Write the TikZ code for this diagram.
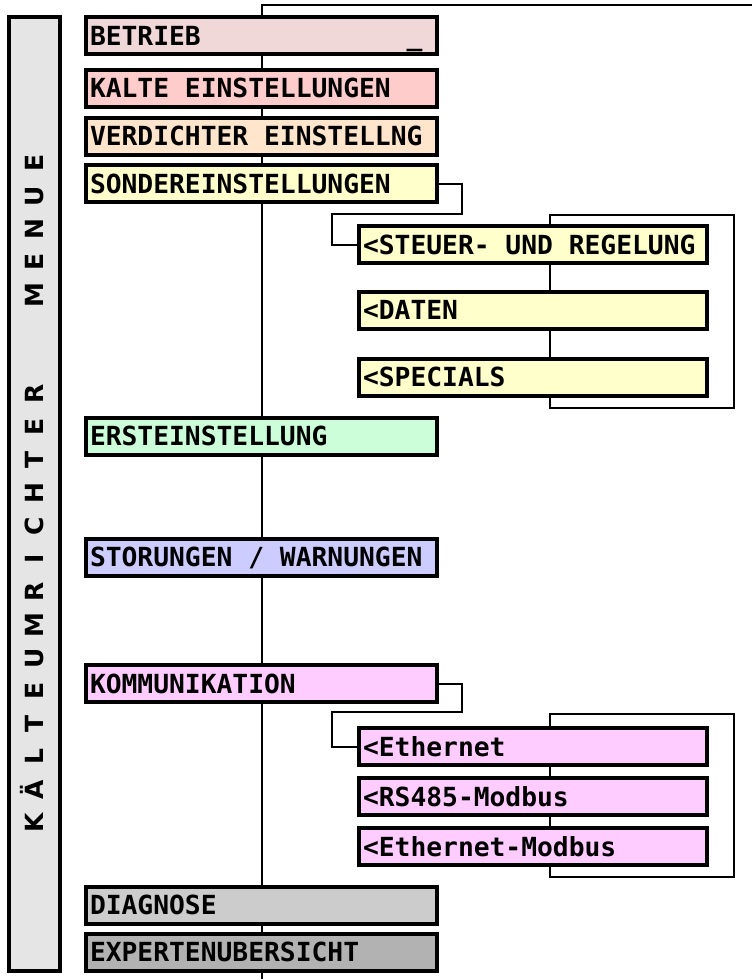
\documentclass[tikz,border=0pt]{standalone}
\usepackage{fontspec}
\newfontfamily\boxfont{DejaVu Sans Mono}
\newfontfamily\sidefont{DejaVu Sans}
\usetikzlibrary{backgrounds}
\definecolor{cside}{HTML}{E5E5E5}
\definecolor{cbetr}{HTML}{F0D8D8}
\definecolor{ckalt}{HTML}{FFCCCC}
\definecolor{cverd}{HTML}{FFE5CC}
\definecolor{csond}{HTML}{FFFFCC}
\definecolor{cerst}{HTML}{CCFFD9}
\definecolor{cstor}{HTML}{CCCCFF}
\definecolor{ckomm}{HTML}{FFCCFF}
\definecolor{cdiag}{HTML}{CCCCCC}
\definecolor{cexpt}{HTML}{B2B2B2}
\newcommand\ms{\hspace*{0.602em}}
\tikzset{
  menubox/.style={draw, line width=4pt, minimum height=37pt, inner xsep=4pt,
    align=left, text height=19pt, text depth=0pt,
    font=\boxfont\bfseries\fontsize{26.3}{26.3}\selectfont},
  mainbox/.style={menubox, text width=343pt, minimum width=351pt},
  subbox/.style={menubox, text width=340pt, minimum width=348pt},
  conn/.style={line width=2pt},
  vlet/.style={rotate=90, anchor=base, inner sep=0pt,
    font=\sidefont\bfseries\fontsize{25}{25}\selectfont}
}
\begin{document}
\begin{tikzpicture}[x=1pt, y=-1pt]
\useasboundingbox (0,0) rectangle (752,979);
% side panel
\node[draw, line width=4pt, fill=cside, minimum width=51pt, minimum height=954pt, inner sep=0pt] (side) at (34.5,494) {};
\foreach \c/\i in {K/0,Ä/1,L/2,T/3,E/4,U/5,M/6,R/7,I/8,C/9,H/10,T/11,E/12,R/13,M/16,E/17,N/18,U/19,E/20}
  \node[vlet] (v\i) at (43.5,{823-33*\i}) {\c};
% main boxes
\node[mainbox, fill=cbetr] (betr) at (261.5,36) {BETRIEB\ms\ms\ms\ms\ms\ms\ms\ms\ms\ms\ms\ms\ms\_};
\node[mainbox, fill=ckalt] (kalt) at (261.5,88.5) {KALTE\ms EINSTELLUNGEN};
\node[mainbox, fill=cverd] (verd) at (261.5,136.5) {VERDICHTER\ms EINSTELLNG};
\node[mainbox, fill=csond] (sond) at (261.5,183.5) {SONDEREINSTELLUNGEN};
\node[mainbox, fill=cerst] (erst) at (261.5,436) {ERSTEINSTELLUNG};
\node[mainbox, fill=cstor] (stor) at (261.5,557) {STORUNGEN\ms/\ms WARNUNGEN};
\node[mainbox, fill=ckomm] (komm) at (261.5,683.5) {KOMMUNIKATION};
\node[mainbox, fill=cdiag] (diag) at (261.5,905) {DIAGNOSE};
\node[mainbox, fill=cexpt] (expt) at (261.5,952) {EXPERTENUBERSICHT};
% sub boxes
\node[subbox, fill=csond] (steu) at (533,244.5) {<STEUER-\ms UND\ms REGELUNG};
\node[subbox, fill=csond] (date) at (533,310) {<DATEN};
\node[subbox, fill=csond] (spec) at (533,377) {<SPECIALS};
\node[subbox, fill=ckomm] (ethe) at (533,746.5) {<Ethernet};
\node[subbox, fill=ckomm] (rs) at (533,796.5) {<RS485-Modbus};
\node[subbox, fill=ckomm] (emod) at (533,846.5) {<Ethernet-Modbus};
% connectors behind
\coordinate (top) at (262,5);
\coordinate (bot) at (262,979);
\coordinate (topr) at (752,5);
\begin{scope}[on background layer]
\draw[conn] (bot) -- (top) -- (topr);
\draw[conn] (sond.east) -- (462,183.5) -- (462,214) -- (332,214) |- (steu.west);
\draw[conn] (komm.east) -- (462,683.5) -- (462,712) -- (332,712) |- (ethe.west);
\draw[conn] (550,215) rectangle (734,408);
\draw[conn] (550,714) rectangle (734,877);
\end{scope}
\end{tikzpicture}
\end{document}
